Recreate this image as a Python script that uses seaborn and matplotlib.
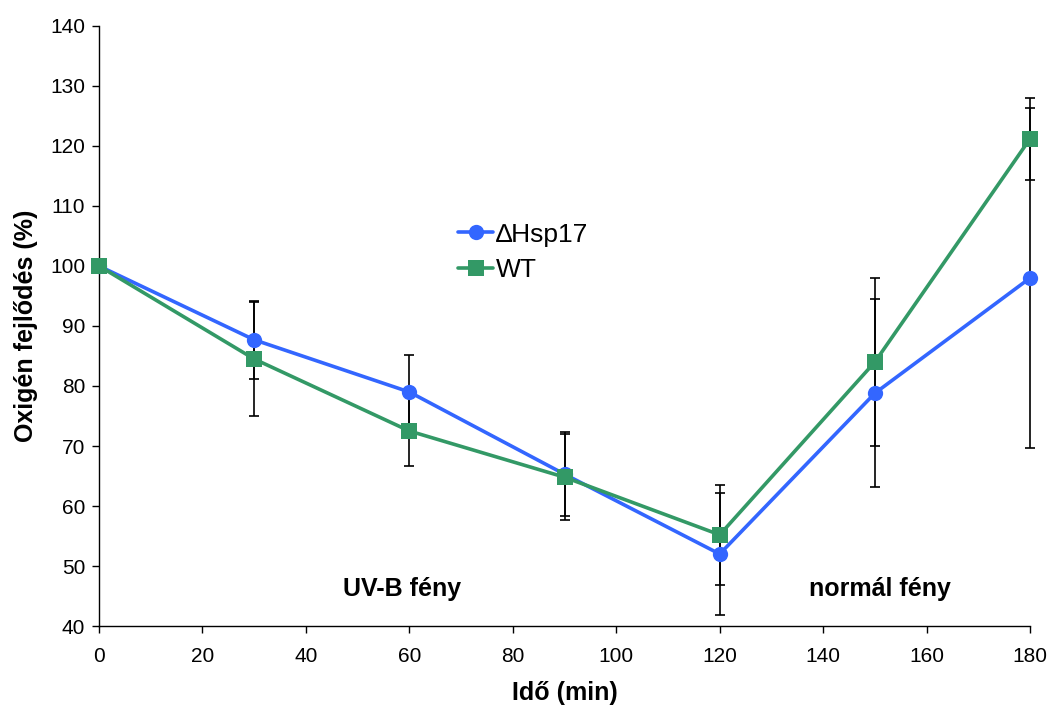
import matplotlib
matplotlib.use("Agg")
import matplotlib.pyplot as plt
import seaborn as sns
import pandas as pd

# Time points (min)
time_min = [0, 30, 60, 90, 120, 150, 180]

# Oxygen evolution (%) and standard deviations
hsp17_mean = [100, 87.7, 79.0, 65.3, 52.0, 78.8, 98.0]
hsp17_err = [0, 6.5, 6.2, 7.0, 10.2, 15.7, 28.4]
wt_mean = [100, 84.5, 72.5, 64.8, 55.2, 84.0, 121.2]
wt_err = [0, 9.5, 5.8, 7.2, 8.3, 14.0, 6.8]

series_names = ["\u2206Hsp17", "WT"]
colors = {"\u2206Hsp17": "#3366FF", "WT": "#339966"}
markers = {"\u2206Hsp17": "o", "WT": "s"}

df = pd.DataFrame({
    "time": time_min * 2,
    "value": hsp17_mean + wt_mean,
    "series": [series_names[0]] * len(time_min) + [series_names[1]] * len(time_min),
})

sns.set_style("ticks")
plt.rcParams["font.family"] = ["Liberation Sans", "DejaVu Sans"]
plt.rcParams["text.color"] = "black"
plt.rcParams["axes.labelcolor"] = "black"

fig = plt.figure(figsize=(10.5, 7.06), dpi=100)
ax = fig.add_axes([0.0943, 0.1133, 0.8867, 0.8499])

# Error bars underneath the lines
for mean, err in ((hsp17_mean, hsp17_err), (wt_mean, wt_err)):
    ebar = ax.errorbar(time_min, mean, yerr=err, fmt="none", ecolor="black",
                       elinewidth=1.2, capsize=3.8, capthick=1.2, zorder=1)
    for artist in ebar.lines[1] + ebar.lines[2]:
        artist.set_clip_on(False)

sns.lineplot(data=df, x="time", y="value", hue="series", style="series",
             palette=colors, markers=markers, dashes=False,
             markersize=11, markeredgewidth=0, linewidth=2.6,
             ax=ax, zorder=3)
# Let the end markers sit fully over the axes edges
for line in ax.get_lines():
    line.set_clip_on(False)

ax.set_xlim(0, 180)
ax.set_ylim(40, 140)
ax.set_xticks(range(0, 181, 20))
ax.set_yticks(range(40, 141, 10))
ax.tick_params(axis="both", direction="out", length=5, width=1,
               labelsize=15, color="black", labelcolor="black")
ax.tick_params(axis="x", pad=10)
ax.tick_params(axis="y", pad=5)
for side in ("left", "bottom"):
    ax.spines[side].set_color("black")
    ax.spines[side].set_linewidth(1)
    ax.spines[side].set_zorder(0.5)
sns.despine(ax=ax)

ax.set_xlabel("Idő (min)", fontsize=18, fontweight="bold", labelpad=11)
ax.set_ylabel("Oxigén fejlődés (%)", fontsize=18, fontweight="bold", labelpad=9)

ax.text(58.5, 46.2, "UV-B fény", ha="center", va="center",
        fontsize=18, fontweight="bold")
ax.text(151, 46.2, "normál fény", ha="center", va="center",
        fontsize=18, fontweight="bold")

leg = ax.legend(title=None, frameon=False, fontsize=19,
                loc="upper left", bbox_to_anchor=(0.374, 0.69),
                handlelength=1.35, handletextpad=0.08, labelspacing=0.45,
                borderaxespad=0)

fig.savefig("out.png", dpi=100)
